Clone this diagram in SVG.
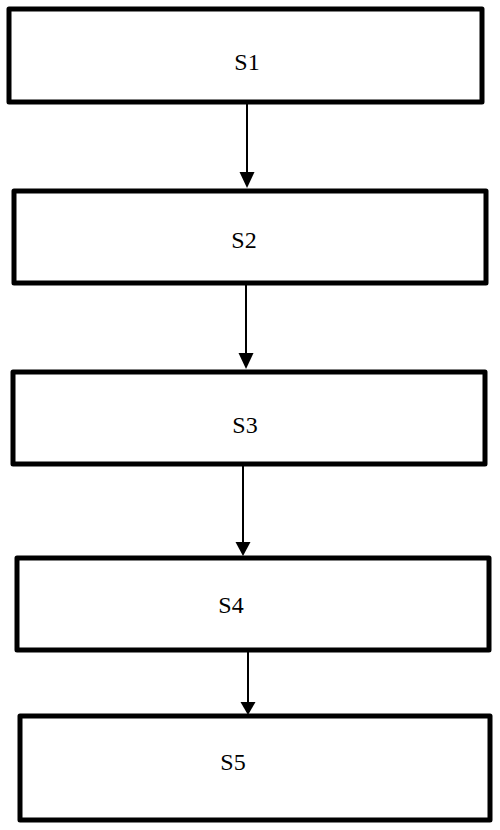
<svg xmlns="http://www.w3.org/2000/svg" width="500" height="830" viewBox="0 0 500 830">
<style>
.box{fill:#fff;stroke:#000;stroke-width:5;stroke-linejoin:round}
.lbl{font-family:"Liberation Serif","Times New Roman",serif;font-size:24px;fill:#000}
.conn{stroke:#000;stroke-width:2;fill:none}
.head{fill:#000}
</style>
<rect width="500" height="830" fill="#fff"/>
<g id="connectors">
<line class="conn" x1="247" y1="104" x2="247" y2="175"/>
<polygon class="head" points="239.5,172 254.5,172 247,188"/>
<line class="conn" x1="246" y1="285" x2="246" y2="356"/>
<polygon class="head" points="238.5,353 253.5,353 246,369"/>
<line class="conn" x1="243" y1="466" x2="243" y2="545"/>
<polygon class="head" points="235.5,542 250.5,542 243,556"/>
<line class="conn" x1="248" y1="652" x2="248" y2="705"/>
<polygon class="head" points="240.5,702 255.5,702 248,715"/>
</g>
<g id="S1"><rect class="box" x="9" y="9" width="473" height="93"/><text class="lbl" x="247" y="70" text-anchor="middle">S1</text></g>
<g id="S2"><rect class="box" x="14" y="191" width="472" height="92"/><text class="lbl" x="244" y="248" text-anchor="middle">S2</text></g>
<g id="S3"><rect class="box" x="13" y="372" width="472" height="92"/><text class="lbl" x="245" y="433" text-anchor="middle">S3</text></g>
<g id="S4"><rect class="box" x="17" y="558" width="472" height="92"/><text class="lbl" x="231" y="613" text-anchor="middle">S4</text></g>
<g id="S5"><rect class="box" x="20" y="716" width="470" height="104"/><text class="lbl" x="233" y="770" text-anchor="middle">S5</text></g>
</svg>
